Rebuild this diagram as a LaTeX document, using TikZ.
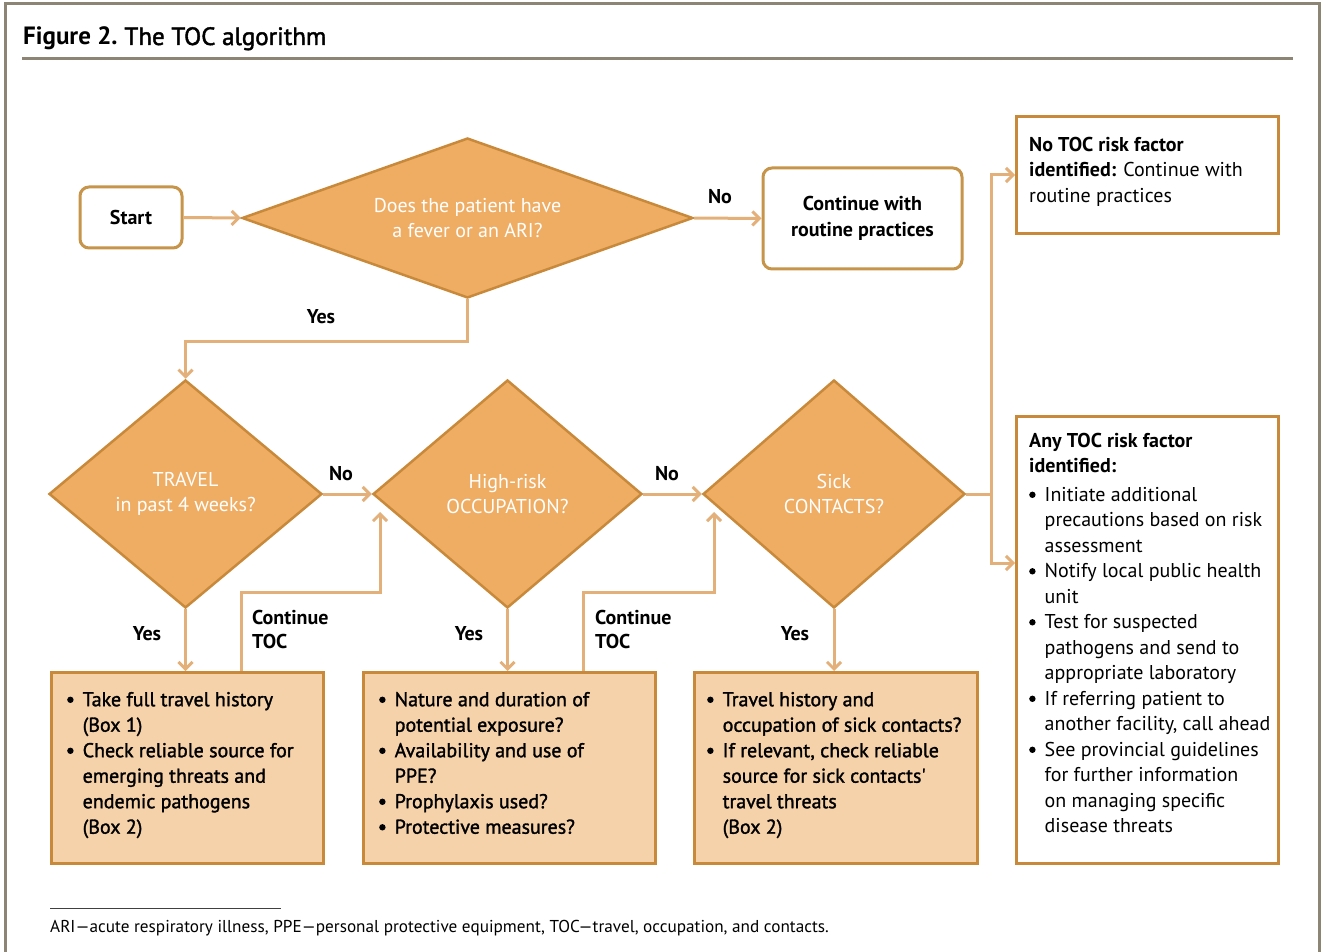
\documentclass[tikz,border=0pt]{standalone}
\usepackage{fontspec}
\setmainfont{PT Sans}
\newfontfamily\medfont{PT Sans}[FakeBold=1.5]
\newfontfamily\titlemed{PT Sans}[FakeBold=1.8]
\usetikzlibrary{arrows.meta,shapes.geometric,calc}
\definecolor{framec}{HTML}{8C8575}
\definecolor{dfill}{HTML}{EFAC63}
\definecolor{dline}{HTML}{C8893B}
\definecolor{bfill}{HTML}{F5D2A9}
\definecolor{connc}{HTML}{E4B07A}
\definecolor{rline}{HTML}{C6954A}
\newcommand\bl{\makebox[15.5pt][l]{\tikz[x=1pt,y=1pt,baseline=-6.4pt]\fill (3.2,0) circle (3.2pt);}}
\newcommand\ind{\hspace*{15.5pt}}
\newcommand\fl{\rule{0pt}{16pt}}
\newcommand\fs{\fontsize{20}{25.5}\selectfont}
\tikzset{
  dia/.style={shape=diamond, draw=dline, fill=dfill, line width=2.5pt, inner sep=0pt,
    text=white, align=center, font=\fs},
  rbox/.style={draw=rline, fill=white, line width=3pt, rounded corners=9pt, inner sep=0pt,
    align=center, font=\fs\bfseries},
  obox/.style={draw=dline, fill=bfill, line width=3pt, inner sep=0pt, anchor=north west},
  wbox/.style={draw=dline, fill=white, line width=3pt, inner sep=0pt, anchor=north west},
  btext/.style={anchor=north west, inner sep=0pt, align=left, font=\fs\medfont},
  ttext/.style={anchor=north west, inner sep=0pt, align=left, font=\fs},
  lbl/.style={inner sep=0pt, font=\fs\bfseries},
  llbl/.style={anchor=north west, inner sep=0pt, align=left, font=\fontsize{20}{24.5}\selectfont\bfseries},
  conn/.style={draw=connc, line width=3pt},
  arr/.style={conn, -{Straight Barb[length=7pt,width=14pt]}},
}
\begin{document}
\begin{tikzpicture}[x=1pt,y=-1pt]
\useasboundingbox (0,0) rectangle (1323,952);
% frame and title
\draw[framec, line width=3pt] (5,952) -- (5,3.5) -- (1319.5,3.5) -- (1319.5,952);
\node[anchor=base west, inner sep=0pt, font=\fontsize{25}{30}\selectfont] (title) at (23,45)
  {\textbf{Figure 2.}\hspace{-2pt} {\titlemed The TOC algorithm}};
\draw[framec, line width=3.5pt] (22,58.5) -- (1293,58.5);

% top row
\node[rbox, minimum width=102, minimum height=61] (start) at (131,217.5) {Start};
\node[dia, aspect=2.82, minimum width=451, minimum height=160] (d1) at (467.5,218)
  {Does the patient have\\a fever or an ARI?};
\node[rbox, minimum width=199, minimum height=101] (cont) at (862.5,218.5)
  {Continue with\\routine practices};

% diamonds row
\node[dia, aspect=1.2, minimum width=273, minimum height=228] (d2) at (185.5,494) {TRAVEL\\in past 4 weeks?};
\node[dia, aspect=1.18, minimum width=269, minimum height=228] (d3) at (507.5,494) {High-risk\\OCCUPATION?};
\node[dia, aspect=1.15, minimum width=262, minimum height=228] (d4) at (834,494) {Sick\\CONTACTS?};

% action boxes
\node[obox, minimum width=272, minimum height=191] (b1) at (50,671) {};
\node[obox, minimum width=292, minimum height=191] (b2) at (362,671) {};
\node[obox, minimum width=283, minimum height=191] (b3) at (693,671) {};
\node[btext] (t1) at (67,690) {\fl\bl Take full travel history\\\ind(Box 1)\\\bl Check reliable source for\\\ind emerging threats and\\\ind endemic pathogens\\\ind(Box 2)};
\node[btext] (t2) at (379,690) {\fl\bl Nature and duration of\\\ind potential exposure?\\\bl Availability and use of\\\ind PPE?\\\bl Prophylaxis used?\\\bl Protective measures?};
\node[btext] (t3) at (707,690) {\fl\bl Travel history and\\\ind occupation of sick contacts?\\\bl If relevant, check reliable\\\ind source for sick contacts'\\\ind travel threats\\\ind(Box 2)};

% outcome boxes
\node[wbox, minimum width=262, minimum height=117] (notoc) at (1015,115) {};
\node[wbox, minimum width=262, minimum height=447] (any) at (1015,415) {};
\node[ttext] (tn) at (1029,135) {\fl\textbf{No TOC risk factor}\\\textbf{identified:} Continue with\\routine practices};
\node[ttext] (ta) at (1029,431) {\fl\textbf{Any TOC risk factor}\\\textbf{identified:}\\[3pt]\bl Initiate additional\\\ind precautions based on risk\\\ind assessment\\\bl Notify local public health\\\ind unit\\\bl Test for suspected\\\ind pathogens and send to\\\ind appropriate laboratory\\\bl If referring patient to\\\ind another facility, call ahead\\\bl See provincial guidelines\\\ind for further information\\\ind on managing specific\\\ind disease threats};

% connectors
\draw[arr] (start.east) -- (d1.west);
\draw[arr] (d1.east) -- (cont.west);
\draw[arr] (d1.south) -- ++(0,42) -| (d2.north);
\draw[arr] (d2.east) -- (d3.west);
\draw[arr] (d3.east) -- (d4.west);
\draw[arr] (d2.south) -- (d2.south |- b1.north);
\draw[arr] (d3.south) -- (d3.south |- b2.north);
\draw[arr] (d4.south) -- (d4.south |- b3.north);
\coordinate (c1) at (380,512);
\coordinate (c2) at (714,512);
\draw[arr] ($(b1.north west)+(191,0)$) |- ($(c1)+(0,80)$) -- (c1);
\draw[arr] ($(b2.north west)+(221,0)$) |- ($(c2)+(0,80)$) -- (c2);
\coordinate (j) at (991,494);
\draw[conn] (d4.east) -- (j);
\draw[arr] (j) |- ($(notoc.north west)+(0,60)$);
\draw[arr] (j) |- ($(any.north west)+(0,148)$);

% labels
\node[lbl] (ln1) at (720,197) {No};
\node[lbl] (ly1) at (321,317) {Yes};
\node[lbl] (ln2) at (341,474) {No};
\node[lbl] (ln3) at (667,474) {No};
\node[lbl] (ly2) at (147,634) {Yes};
\node[lbl] (ly3) at (469,634) {Yes};
\node[lbl] (ly4) at (795,634) {Yes};
\node[llbl] (lc1) at (252,608) {\fl Continue\\TOC};
\node[llbl] (lc2) at (595,608) {\fl Continue\\TOC};

% footnote
\draw[black!75, line width=0.8pt] (50,908) -- (281,908);
\node[anchor=base west, inner sep=0pt, font=\fontsize{17.2}{19}\selectfont] (foot) at (50,932)
  {ARI—acute respiratory illness, PPE—personal protective equipment, TOC—travel, occupation, and contacts.};
\end{tikzpicture}
\end{document}
